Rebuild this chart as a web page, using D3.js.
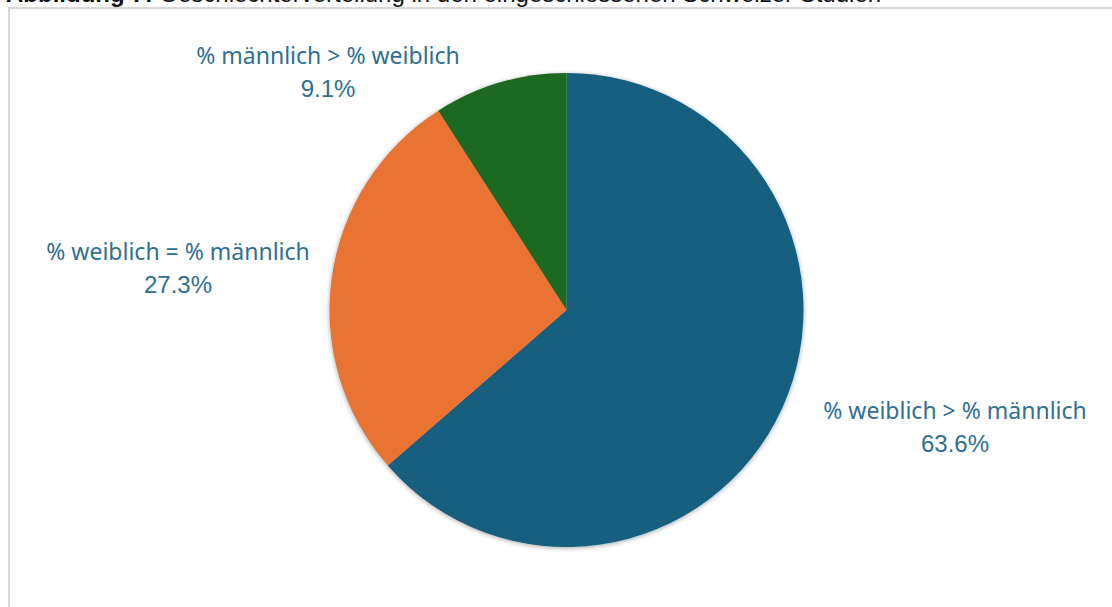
<!DOCTYPE html>
<html>
<head>
<meta charset="utf-8">
<script src="https://cdn.jsdelivr.net/npm/d3@7/dist/d3.min.js"></script>
<style>
  html, body { margin: 0; padding: 0; background: #fff; }
  svg { display: block; }
</style>
</head>
<body>
<svg id="chart" width="1112" height="607"></svg>
<script>
// Slice data, in drawing order clockwise from 12 o'clock
const categories = ["% weiblich > % männlich", "% weiblich = % männlich", "% männlich > % weiblich"];
const shares = [63.6, 27.3, 9.1];
const valueLabels = ["63.6%", "27.3%", "9.1%"];
const sliceColors = ["#175e7f", "#e87332", "#1b6a24"];

// Label anchor points (centre of the two-line label block)
const labelAnchors = [[955, 427], [178, 268], [328, 72]];

const svg = d3.select("#chart");
const W = 1112, H = 607;

// Caption line at the top, partly clipped by the page edge
const cap = svg.append("text")
  .attr("x", 6).attr("y", 2)
  .attr("font-family", "Liberation Sans, Arial, sans-serif")
  .attr("font-size", 24)
  .attr("fill", "#111");
cap.append("tspan").attr("font-weight", "bold").text("Abbildung 7: ");
cap.append("tspan").text("Geschlechterverteilung in den eingeschlossenen Schweizer Studien");

// Chart frame
svg.append("path")
  .attr("d", `M9,${H} L9,8 L${W},8`)
  .attr("fill", "none")
  .attr("stroke", "#d9d9d9")
  .attr("stroke-width", 2);

const cx = 566.5, cy = 310, r = 237;

const defs = svg.append("defs");
const f = defs.append("filter").attr("id", "soft").attr("x", "-10%").attr("y", "-10%").attr("width", "120%").attr("height", "120%");
f.append("feGaussianBlur").attr("in", "SourceAlpha").attr("stdDeviation", 2.5).attr("result", "b");
f.append("feOffset").attr("in", "b").attr("dx", 0).attr("dy", 1).attr("result", "o");
f.append("feComponentTransfer").attr("in", "o").attr("result", "s")
  .append("feFuncA").attr("type", "linear").attr("slope", 0.35);
const m = f.append("feMerge");
m.append("feMergeNode").attr("in", "s");
m.append("feMergeNode").attr("in", "SourceGraphic");

const pie = d3.pie().sort(null).value(d => d);
const arc = d3.arc().innerRadius(0).outerRadius(r);
const arcs = pie(shares);

const g = svg.append("g").attr("transform", `translate(${cx},${cy})`).attr("filter", "url(#soft)");
g.selectAll("path.slice")
  .data(arcs)
  .join("path")
  .attr("class", "slice")
  .attr("d", arc)
  .attr("fill", (d, i) => sliceColors[i]);

// Two-line data labels
const lbl = svg.append("g").selectAll("g.lbl")
  .data(arcs)
  .join("g")
  .attr("class", "lbl")
  .attr("transform", (d, i) => `translate(${labelAnchors[i][0]},${labelAnchors[i][1]})`);

lbl.append("text")
  .attr("text-anchor", "middle")
  .attr("y", -8)
  .attr("font-family", "Noto Sans, sans-serif")
  .attr("font-size", 23)
  .attr("fill", "#2e6f92")
  .text((d, i) => categories[i]);

lbl.append("text")
  .attr("text-anchor", "middle")
  .attr("y", 25)
  .attr("font-family", "Liberation Sans, Arial, sans-serif")
  .attr("font-size", 24)
  .attr("fill", "#2e6f92")
  .text((d, i) => valueLabels[i]);
</script>
</body>
</html>
